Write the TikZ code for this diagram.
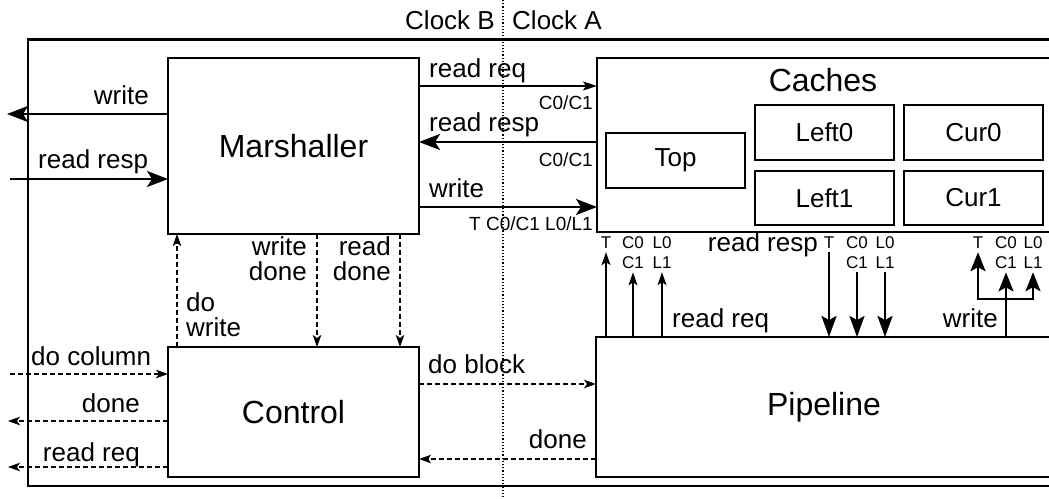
\documentclass[tikz,border=0pt]{standalone}
\usepackage{fontspec}
\setmainfont{Liberation Sans}
\usetikzlibrary{arrows.meta}
\tikzset{
  bigfont/.style={font=\fontsize{32}{38}\selectfont},
  midfont/.style={font=\fontsize{26}{25}\selectfont},
  smallfont/.style={font=\fontsize{19}{22}\selectfont},
  tinyfont/.style={font=\fontsize{17}{20}\selectfont},
  mainbox/.style={draw, line width=2pt, inner sep=0pt, outer sep=0pt, bigfont},
  subbox/.style={draw, line width=1.2pt, inner sep=0pt, outer sep=0pt, minimum width=139pt, minimum height=55pt, midfont},
  lbl/.style={inner sep=0pt, midfont},
  slbl/.style={inner sep=0pt, smallfont},
  tlbl/.style={inner xsep=0pt, inner ysep=4pt, tinyfont, anchor=base},
  thinarrow/.style={line width=1.2pt, -{Stealth[length=14pt,width=9pt,inset=3pt]}},
  lowthin/.style={line width=1.2pt, -{Stealth[length=13pt,width=9pt,inset=3pt]}},
  thickarrow/.style={line width=2.5pt, -{Stealth[length=21pt,width=16pt,inset=5pt]}},
  lowthick/.style={line width=2.5pt, -{Stealth[length=21pt,width=15pt,inset=4pt]}},
  dasharrow/.style={line width=1.2pt, dash pattern=on 5pt off 3pt, -{Stealth[length=12pt,width=8.5pt,inset=3pt]}},
}
\begin{document}
\begin{tikzpicture}[x=1pt,y=-1pt]
\useasboundingbox (0,0) rectangle (1049,498);
\clip (0,0) rectangle (1049,498);

% clock domain separator
\draw[line width=1.2pt, dash pattern=on 1.2pt off 2pt] (503,0) -- (503,498);
\node[lbl, anchor=base east] (clkB) at (495,29) {Clock B};
\node[lbl, anchor=base west] (clkA) at (512,29) {Clock A};

% outer frame
\draw[line width=2.2pt] (28,39.5) rectangle (1070,486);

% main blocks
\node[mainbox, minimum width=251pt, minimum height=176pt] (marsh) at (293.5,146) {Marshaller};
\node[mainbox, minimum width=251pt, minimum height=130pt] (ctrl) at (293.5,412) {Control};
\node[mainbox, minimum width=455pt, minimum height=174pt] (caches) at (824.5,145) {};
\node[inner sep=0pt, bigfont, anchor=base] (cachesL) at (823,91) {Caches};
\node[mainbox, minimum width=456pt, minimum height=140pt] (pipe) at (824,407) {Pipeline};

% caches
\node[subbox] (top) at (675.5,160.5) {Top};
\node[subbox] (left0) at (824.5,132.5) {Left0};
\node[subbox, minimum height=54pt] (left1) at (824.5,198) {Left1};
\node[subbox] (cur0) at (973.5,132.5) {Cur0};
\node[subbox, minimum height=54pt] (cur1) at (973.5,198) {Cur1};

% Marshaller left side
\coordinate (wL) at (7,114);
\coordinate (rrL) at (10,179);
\draw[thickarrow] (marsh.west |- wL) -- (wL);
\draw[thickarrow] (rrL) -- (marsh.west |- rrL);
\node[lbl, anchor=base east] (lw) at (149,104) {write};
\node[lbl, anchor=base west] (lrr) at (38,168) {read resp};

% Marshaller <-> Caches
\draw[thinarrow] (marsh.east |- 0,86) -- (caches.west |- 0,86);
\draw[thickarrow] (caches.west |- 0,142) -- (marsh.east |- 0,142);
\draw[thickarrow] (marsh.east |- 0,207) -- (caches.west |- 0,207);
\node[lbl, anchor=base west] (mrq) at (429,77) {read req};
\node[slbl, anchor=base east] (mrqs) at (593,109) {C0/C1};
\node[lbl, anchor=base west] (mrs) at (429,131) {read resp};
\node[slbl, anchor=base east] (mrss) at (593,166) {C0/C1};
\node[lbl, anchor=base west] (mw) at (429,197) {write};
\node[slbl, anchor=base east] (mws) at (593,230) {T C0/C1 L0/L1};

% Marshaller <-> Control
\draw[dasharrow] (ctrl.north -| 177,0) -- (marsh.south -| 177,0);
\draw[dasharrow] (marsh.south -| 317,0) -- (ctrl.north -| 317,0);
\draw[dasharrow] (marsh.south -| 400,0) -- (ctrl.north -| 400,0);
\node[lbl, align=left, anchor=north west] (ldw) at (186,292) {do\\write};
\node[lbl, align=right, anchor=north east] (lwd) at (307,236.4) {write\\done};
\node[lbl, align=right, anchor=north east] (lrd) at (391,236) {read\\done};

% Control left side
\coordinate (dcL) at (10,374);
\coordinate (dnL) at (8,421);
\coordinate (rqL) at (8,467);
\draw[dasharrow] (dcL) -- (ctrl.west |- dcL);
\draw[dasharrow] (ctrl.west |- dnL) -- (dnL);
\draw[dasharrow] (ctrl.west |- rqL) -- (rqL);
\node[lbl, anchor=base west] (ldc) at (31,365) {do column};
\node[lbl, anchor=base east] (ldn) at (140,412) {done};
\node[lbl, anchor=base east] (lrq) at (140,461) {read req};

% Control <-> Pipeline
\draw[dasharrow] (ctrl.east |- 0,384) -- (pipe.west |- 0,384);
\draw[dasharrow] (pipe.west |- 0,459) -- (ctrl.east |- 0,459);
\node[lbl, anchor=base west] (ldb) at (428,373) {do block};
\node[lbl, anchor=base east] (lpd) at (587,448) {done};

% Pipeline -> Caches : read req
\node[tlbl] (tA) at (606,248) {T};
\node[tlbl] (c0A) at (633,248) {C0};
\node[tlbl] (c1A) at (633,268) {C1};
\node[tlbl] (l0A) at (662,248) {L0};
\node[tlbl] (l1A) at (662,268) {L1};
\draw[lowthin] (pipe.north -| tA.south) -- (tA.south);
\draw[lowthin] (pipe.north -| c1A.south) -- (c1A.south);
\draw[lowthin] (pipe.north -| l1A.south) -- (l1A.south);
\node[lbl, anchor=base west] (lprq) at (672,327) {read req};

% Caches -> Pipeline : read resp
\node[tlbl] (tB) at (829,248) {T};
\node[tlbl] (c0B) at (857,248) {C0};
\node[tlbl] (c1B) at (857,268) {C1};
\node[tlbl] (l0B) at (885,248) {L0};
\node[tlbl] (l1B) at (885,268) {L1};
\draw[lowthick] (tB.south) -- (pipe.north -| tB.south);
\draw[lowthick] (c1B.south) -- (pipe.north -| c1B.south);
\draw[lowthick] (l1B.south) -- (pipe.north -| l1B.south);
\node[lbl, anchor=base east] (lprs) at (818,251) {read resp};

% Pipeline -> Caches : write
\node[tlbl] (tC) at (978,248) {T};
\node[tlbl] (c0C) at (1006,248) {C0};
\node[tlbl] (c1C) at (1006,268) {C1};
\node[tlbl] (l0C) at (1033,248) {L0};
\node[tlbl] (l1C) at (1033,268) {L1};
\coordinate (wj) at (1006,299);
\draw[lowthick, {Stealth[length=19pt,width=15pt,inset=4pt]}-{Stealth[length=19pt,width=15pt,inset=4pt]}]
  (tC.south) -- (tC.south |- wj) -- (l1C.south |- wj) -- (l1C.south);
\draw[lowthick, -{Stealth[length=19pt,width=15pt,inset=4pt]}] (pipe.north -| c1C.south) -- (c1C.south);
\node[lbl, anchor=base east] (lpw) at (998,327) {write};
\end{tikzpicture}
\end{document}
